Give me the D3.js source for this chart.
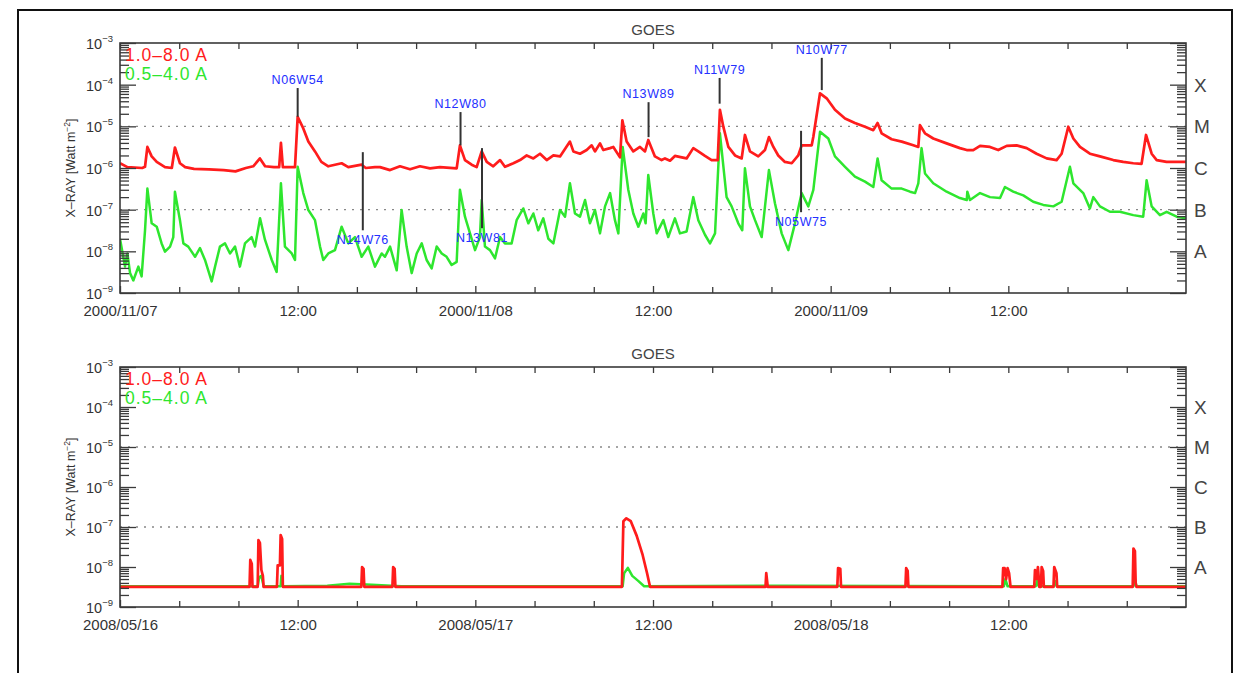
<!DOCTYPE html>
<html>
<head>
<meta charset="utf-8">
<script src="https://cdn.jsdelivr.net/npm/d3@7"></script>
<style>
  body { margin: 0; background: #fff; }
  svg { display: block; font-family: "Liberation Sans", Arial, sans-serif; }
</style>
</head>
<body>
<svg id="chart" width="1242" height="673"></svg>
<script>
// hours since start of window, flux in W m^-2
const hourTicksMajor = [0, 12, 24, 36, 48, 60];
const hourTicksMinor = [4, 8, 16, 20, 28, 32, 40, 44, 52, 56, 64, 68];
const topTickLabels = ['2000/11/07', '12:00', '2000/11/08', '12:00', '2000/11/09', '12:00'];
const bottomTickLabels = ['2008/05/16', '12:00', '2008/05/17', '12:00', '2008/05/18', '12:00'];
const decades = [1e-9, 1e-8, 1e-7, 1e-6, 1e-5, 1e-4, 1e-3];
const decadeExponents = [-9, -8, -7, -6, -5, -4, -3];
const classLetters = ['A', 'B', 'C', 'M', 'X'];
const classLevels = [1e-8, 1e-7, 1e-6, 1e-5, 1e-4];
const dottedLevels = [1e-7, 1e-5];
const legendNames = ['1.0\u20138.0 A', '0.5\u20134.0 A'];

const topLong = [
  [0, 1.3e-6], [0.5, 1.05e-6], [1.5, 1.0e-6], [1.69, 1.07e-6], [1.85, 3.2e-6], [2.14, 1.9e-6],
  [2.48, 1.4e-6], [3.04, 1.05e-6], [3.5, 1.0e-6], [3.71, 3.1e-6], [4.05, 1.3e-6], [4.4, 1.05e-6],
  [5.0, 9.5e-7], [6.0, 9.3e-7], [7.0, 8.9e-7], [7.8, 8.3e-7], [8.5, 1.0e-6], [9.0, 1.1e-6],
  [9.45, 1.7e-6], [9.8, 1.1e-6], [10.4, 1.05e-6], [10.75, 1.05e-6], [10.87, 4.0e-6], [11.0, 1.05e-6],
  [11.82, 1.05e-6], [12.0, 1.7e-5], [12.38, 8.9e-6], [12.72, 4.3e-6], [13.17, 2.5e-6], [13.6, 1.4e-6],
  [14.07, 1.1e-6], [14.97, 1.3e-6], [15.42, 1.05e-6], [16.32, 1.2e-6], [16.6, 1.0e-6], [17.22, 1.05e-6],
  [17.56, 1.05e-6], [18.24, 8.9e-7], [18.91, 1.1e-6], [19.59, 9.3e-7], [20.26, 1.1e-6], [20.94, 9.8e-7],
  [21.61, 1.05e-6], [22.74, 9.8e-7], [22.96, 3.5e-6], [23.3, 1.55e-6], [23.75, 1.2e-6], [24.09, 1.05e-6],
  [24.43, 2.5e-6], [24.77, 1.4e-6], [25.21, 1.1e-6], [25.67, 1.55e-6], [26.0, 1.07e-6], [26.57, 1.3e-6],
  [27.02, 1.55e-6], [27.47, 2.0e-6], [27.92, 1.7e-6], [28.37, 2.2e-6], [28.82, 1.55e-6], [29.27, 2.0e-6],
  [29.72, 1.9e-6], [30.39, 4.3e-6], [30.62, 2.5e-6], [31.07, 2.2e-6], [31.52, 2.7e-6], [31.86, 3.5e-6],
  [32.08, 2.5e-6], [32.42, 3.9e-6], [32.64, 2.7e-6], [33.1, 3.0e-6], [33.32, 3.2e-6], [33.77, 1.8e-6],
  [33.93, 1.4e-5], [34.22, 4.3e-6], [34.67, 2.5e-6], [35.12, 3.2e-6], [35.46, 2.5e-6], [35.68, 4.7e-6],
  [36.13, 1.9e-6], [36.58, 1.55e-6], [36.81, 1.7e-6], [37.15, 1.5e-6], [37.48, 1.95e-6], [37.94, 1.8e-6],
  [38.27, 1.7e-6], [38.72, 3.0e-6], [39.06, 2.5e-6], [39.51, 1.95e-6], [39.96, 1.55e-6], [40.37, 1.55e-6],
  [40.52, 2.5e-5], [40.75, 9.8e-6], [41.09, 3.2e-6], [41.54, 2.0e-6], [41.99, 1.7e-6], [42.21, 6.2e-6],
  [42.55, 2.5e-6], [43.11, 1.9e-6], [43.56, 2.7e-6], [43.83, 5.5e-6], [44.13, 3.2e-6], [44.46, 2.0e-6],
  [44.91, 1.4e-6], [45.37, 1.3e-6], [45.81, 2.0e-6], [46.04, 3.5e-6], [46.72, 3.5e-6], [46.83, 5.6e-6],
  [47.28, 6.2e-5], [47.73, 4.7e-5], [48.29, 2.5e-5], [48.97, 1.55e-5], [49.64, 1.2e-5], [50.32, 9.8e-6],
  [50.88, 8.1e-6], [51.17, 1.2e-5], [51.44, 6.8e-6], [52.12, 4.9e-6], [52.8, 4.3e-6], [53.58, 3.5e-6],
  [53.92, 3.2e-6], [54.03, 1.07e-5], [54.37, 6.8e-6], [54.93, 5.1e-6], [55.83, 3.9e-6], [56.73, 3.0e-6],
  [57.19, 2.7e-6], [57.63, 2.7e-6], [58.09, 3.4e-6], [58.76, 3.2e-6], [59.32, 2.7e-6], [59.89, 3.4e-6],
  [60.56, 3.5e-6], [61.24, 3.0e-6], [61.91, 2.2e-6], [62.59, 1.7e-6], [63.26, 1.55e-6], [63.6, 2.2e-6],
  [64.05, 9.8e-6], [64.39, 5.1e-6], [64.84, 3.2e-6], [65.51, 2.2e-6], [66.19, 1.9e-6], [67.09, 1.55e-6],
  [67.76, 1.4e-6], [68.44, 1.3e-6], [69.0, 1.26e-6], [69.3, 6.2e-6], [69.68, 2.2e-6], [70.02, 1.55e-6],
  [70.69, 1.4e-6], [71.37, 1.4e-6], [72.0, 1.4e-6]
];

const topShort = [
  [0, 2.0e-8], [0.34, 4.3e-9], [0.5, 8.9e-9], [0.68, 3.0e-9], [0.9, 2.0e-9], [1.24, 4.3e-9],
  [1.46, 2.5e-9], [1.69, 3.2e-8], [1.85, 3.2e-7], [2.14, 4.7e-8], [2.48, 3.9e-8], [2.81, 1.55e-8],
  [3.04, 9.8e-9], [3.38, 1.3e-8], [3.6, 2.2e-8], [3.71, 2.7e-7], [4.05, 5.6e-8], [4.28, 1.55e-8],
  [4.61, 1.3e-8], [5.07, 7.4e-9], [5.4, 1.2e-8], [5.74, 6.2e-9], [6.19, 1.9e-9], [6.42, 4.3e-9],
  [6.75, 1.3e-8], [7.09, 1.55e-8], [7.43, 8.9e-9], [7.77, 1.3e-8], [8.1, 4.3e-9], [8.44, 1.55e-8],
  [8.89, 2.2e-8], [9.12, 1.3e-8], [9.46, 6.2e-8], [9.79, 1.9e-8], [10.25, 6.2e-9], [10.58, 3.2e-9],
  [10.87, 4.3e-7], [11.14, 1.3e-8], [11.6, 8.9e-9], [11.82, 6.2e-9], [12.0, 1.07e-6], [12.38, 2.5e-7],
  [12.72, 9.8e-8], [13.17, 5.6e-8], [13.51, 1.3e-8], [13.73, 6.2e-9], [14.07, 8.9e-9], [14.52, 1.07e-8],
  [14.97, 3.9e-8], [15.42, 1.55e-8], [15.87, 2.2e-8], [16.32, 7.4e-9], [16.77, 1.3e-8], [17.22, 4.3e-9],
  [17.67, 8.9e-9], [17.9, 7.4e-9], [18.24, 1.3e-8], [18.69, 3.5e-9], [19.02, 9.8e-8], [19.36, 1.3e-8],
  [19.7, 3.0e-9], [20.04, 8.9e-9], [20.38, 1.55e-8], [20.71, 6.2e-9], [21.05, 3.9e-9], [21.39, 1.3e-8],
  [21.73, 8.9e-9], [22.06, 7.4e-9], [22.4, 4.7e-9], [22.74, 5.6e-9], [22.96, 3.0e-7], [23.3, 6.8e-8],
  [23.64, 2.7e-8], [23.98, 1.07e-8], [24.31, 2.2e-8], [24.43, 1.7e-7], [24.65, 1.3e-8], [24.99, 1.07e-8],
  [25.33, 6.8e-9], [25.67, 2.2e-8], [26.0, 1.55e-8], [26.45, 1.55e-8], [26.79, 5.6e-8], [27.24, 1.07e-7],
  [27.58, 4.7e-8], [27.92, 8.1e-8], [28.25, 3.2e-8], [28.59, 6.2e-8], [28.93, 2.0e-8], [29.27, 1.55e-8],
  [29.72, 9.8e-8], [30.06, 6.8e-8], [30.39, 4.3e-7], [30.73, 8.1e-8], [31.07, 6.8e-8], [31.41, 1.7e-7],
  [31.74, 4.7e-8], [32.08, 9.8e-8], [32.42, 2.7e-8], [32.76, 1.2e-7], [33.1, 2.5e-7], [33.43, 5.6e-8],
  [33.66, 2.7e-8], [33.95, 3.2e-6], [34.33, 3.0e-7], [34.67, 8.1e-8], [35.01, 3.9e-8], [35.35, 8.1e-8],
  [35.5, 4.7e-8], [35.68, 6.8e-7], [36.02, 8.1e-8], [36.25, 2.7e-8], [36.7, 5.6e-8], [37.03, 2.2e-8],
  [37.48, 6.2e-8], [37.82, 2.7e-8], [38.27, 3.0e-8], [38.72, 2.0e-7], [39.06, 5.6e-8], [39.51, 2.5e-8],
  [39.85, 1.55e-8], [40.19, 2.7e-8], [40.52, 6.8e-6], [40.97, 2.0e-7], [41.31, 1.2e-7], [41.76, 4.7e-8],
  [42.03, 3.2e-8], [42.21, 9.8e-7], [42.55, 1.2e-7], [42.89, 5.6e-8], [43.34, 2.2e-8], [43.83, 8.9e-7],
  [44.24, 1.4e-7], [44.69, 2.7e-8], [45.14, 1.07e-8], [45.59, 4.7e-8], [46.04, 2.5e-7], [46.49, 1.2e-7],
  [46.83, 3.0e-7], [47.28, 7.4e-6], [47.84, 5.1e-6], [48.29, 1.9e-6], [48.97, 1.07e-6], [49.64, 6.2e-7],
  [50.32, 4.7e-7], [50.88, 3.5e-7], [51.17, 1.7e-6], [51.44, 5.1e-7], [52.12, 3.2e-7], [52.8, 3.2e-7],
  [53.36, 2.7e-7], [53.7, 2.5e-7], [53.92, 4.3e-7], [54.14, 3.0e-6], [54.37, 7.4e-7], [54.93, 4.3e-7],
  [55.83, 2.7e-7], [56.73, 1.9e-7], [57.19, 1.7e-7], [57.23, 2.7e-7], [57.41, 1.7e-7], [58.09, 2.5e-7],
  [58.76, 2.0e-7], [59.44, 1.9e-7], [59.77, 3.5e-7], [60.33, 2.7e-7], [61.01, 2.2e-7], [61.68, 1.55e-7],
  [62.36, 1.3e-7], [63.04, 1.2e-7], [63.6, 1.55e-7], [64.16, 1.07e-6], [64.39, 4.3e-7], [65.06, 2.5e-7],
  [65.51, 1.07e-7], [65.74, 2.0e-7], [66.19, 1.2e-7], [66.86, 8.9e-8], [67.54, 8.9e-8], [68.44, 7.4e-8],
  [69.11, 6.8e-8], [69.34, 5.1e-7], [69.68, 1.2e-7], [70.24, 7.4e-8], [70.69, 8.9e-8], [71.37, 6.8e-8],
  [72.0, 6.2e-8]
];

const bottomLong = [
  [0, 3.2e-9], [8.75, 3.2e-9], [8.8, 1.5e-8], [8.9, 1.2e-8], [8.95, 3.2e-9], [9.3, 3.2e-9],
  [9.35, 4.7e-8], [9.45, 4.0e-8], [9.55, 8.4e-9], [9.65, 6.0e-9], [9.7, 3.2e-9], [10.6, 3.2e-9],
  [10.65, 1.1e-8], [10.8, 1.1e-8], [10.85, 6.3e-8], [10.95, 5.0e-8], [11.0, 3.2e-9], [16.3, 3.2e-9],
  [16.35, 1.0e-8], [16.45, 9.0e-9], [16.5, 3.2e-9], [18.4, 3.2e-9], [18.45, 1.0e-8], [18.55, 9.0e-9],
  [18.6, 3.2e-9], [33.9, 3.2e-9], [34.0, 1.4e-7], [34.2, 1.65e-7], [34.5, 1.4e-7], [34.9, 6.0e-8],
  [35.3, 2.0e-8], [35.6, 7.0e-9], [35.8, 3.2e-9], [43.6, 3.2e-9], [43.65, 7.0e-9], [43.75, 3.2e-9],
  [48.45, 3.2e-9], [48.5, 9.4e-9], [48.65, 9.0e-9], [48.7, 3.2e-9], [53.05, 3.2e-9], [53.1, 9.4e-9],
  [53.2, 8.0e-9], [53.25, 3.2e-9], [59.6, 3.2e-9], [59.65, 9.4e-9], [59.75, 9.4e-9], [59.85, 5.0e-9],
  [59.95, 9.4e-9], [60.05, 7.0e-9], [60.15, 3.2e-9], [61.75, 3.2e-9], [61.8, 8.4e-9], [61.9, 5.0e-9],
  [62.0, 1.0e-8], [62.1, 3.2e-9], [62.2, 3.2e-9], [62.25, 1.0e-8], [62.35, 8.0e-9], [62.4, 3.2e-9],
  [63.05, 3.2e-9], [63.1, 1.0e-8], [63.25, 7.0e-9], [63.3, 3.2e-9], [68.4, 3.2e-9], [68.45, 2.9e-8],
  [68.55, 2.5e-8], [68.6, 4.0e-9], [68.65, 3.2e-9], [72, 3.2e-9]
];

const bottomShort = [
  [0, 3.3e-9], [9.3, 3.3e-9], [9.4, 5.5e-9], [9.55, 6.0e-9], [9.7, 3.3e-9], [10.85, 3.3e-9],
  [10.9, 6.0e-9], [11.0, 3.3e-9], [14, 3.4e-9], [15.5, 3.8e-9], [17, 3.6e-9], [19, 3.3e-9],
  [33.95, 3.3e-9], [34.05, 7.0e-9], [34.3, 9.5e-9], [34.6, 6.0e-9], [35.0, 4.5e-9], [35.4, 3.3e-9],
  [45, 3.4e-9], [59.7, 3.3e-9], [59.8, 5.0e-9], [59.95, 3.3e-9], [61.85, 3.3e-9], [61.95, 4.5e-9],
  [62.05, 3.3e-9], [63.1, 3.3e-9], [63.15, 4.5e-9], [63.3, 3.3e-9], [68.45, 3.3e-9], [68.55, 5.0e-9],
  [68.65, 3.3e-9], [72, 3.3e-9]
];

// flare source regions: hour, line top flux, line bottom flux, label side
const regionNames = ['N06W54', 'N14W76', 'N12W80', 'N13W81', 'N13W89', 'N11W79', 'N05W75', 'N10W77'];
const regionHours = [12.0, 16.4, 23.0, 24.45, 35.7, 40.5, 46.0, 47.4];
const regionTop = [8.3e-5, 2.4e-6, 2.2e-5, 3.0e-6, 3.8e-5, 1.45e-4, 7.8e-6, 4.4e-4];
const regionBottom = [1.7e-5, 3.2e-8, 3.5e-6, 3.6e-8, 5.5e-6, 3.5e-5, 8.7e-8, 7.4e-5];
const regionSide = ['top', 'bottom', 'top', 'bottom', 'top', 'top', 'bottom', 'top'];

const RED = '#ff1c1c';
const GREEN = '#2ee62e';
const AXIS = '#3a3a3a';

const svg = d3.select('#chart');

// outer frame
svg.append('rect')
  .attr('x', 18).attr('y', 10)
  .attr('width', 1214).attr('height', 700)
  .attr('fill', 'none').attr('stroke', '#111').attr('stroke-width', 2);

const panels = [
  { top: 43, bottom: 293, left: 120, right: 1186, long: topLong, short: topShort, labels: topTickLabels, regions: true },
  { top: 367, bottom: 607, left: 120, right: 1186, long: bottomLong, short: bottomShort, labels: bottomTickLabels, regions: false }
];

const minorValues = [];
decadeExponents.slice(0, -1).forEach((e) => {
  for (let m = 2; m <= 9; m++) minorValues.push(m * Math.pow(10, e));
});

function styleAxis (g) {
  g.select('.domain').remove();
  g.selectAll('.tick line').attr('stroke', AXIS).attr('stroke-width', 1.3);
}

function drawPanel (p, index) {
  const x = d3.scaleLinear().domain([0, 72]).range([p.left, p.right]);
  const y = d3.scaleLog().domain([1e-9, 1e-3]).range([p.bottom, p.top]);
  const g = svg.append('g');

  g.append('text')
    .attr('x', (p.left + p.right) / 2).attr('y', p.top - 8)
    .attr('text-anchor', 'middle').attr('font-size', 15).attr('fill', '#444')
    .text('GOES');

  g.selectAll('line.level')
    .data(dottedLevels)
    .join('line')
    .attr('class', 'level')
    .attr('x1', p.left).attr('x2', p.right)
    .attr('y1', (d) => y(d)).attr('y2', (d) => y(d))
    .attr('stroke', '#888').attr('stroke-width', 1.4)
    .attr('stroke-dasharray', '2,6');

  const clipId = 'clip' + index;
  svg.append('clipPath').attr('id', clipId)
    .append('rect')
    .attr('x', p.left).attr('y', p.top)
    .attr('width', p.right - p.left).attr('height', p.bottom - p.top);

  const line = d3.line().x((d) => x(d[0])).y((d) => y(d[1]));
  const plot = g.append('g').attr('clip-path', `url(#${clipId})`);

  plot.append('path').datum(p.short)
    .attr('d', line).attr('fill', 'none')
    .attr('stroke', GREEN).attr('stroke-width', 2.5).attr('stroke-linejoin', 'round');
  plot.append('path').datum(p.long)
    .attr('d', line).attr('fill', 'none')
    .attr('stroke', RED).attr('stroke-width', 2.7).attr('stroke-linejoin', 'round');

  // x axes, ticks inward
  g.append('g').attr('transform', `translate(0,${p.bottom})`)
    .call(d3.axisBottom(x).tickValues(hourTicksMinor).tickSizeInner(-6).tickSizeOuter(0).tickFormat(''))
    .call(styleAxis);
  g.append('g').attr('transform', `translate(0,${p.bottom})`)
    .call(d3.axisBottom(x).tickValues(hourTicksMajor).tickSizeInner(-7).tickSizeOuter(0).tickPadding(12)
      .tickFormat((d, i) => p.labels[i]))
    .call(styleAxis)
    .call((a) => a.selectAll('.tick text').attr('font-size', 15).attr('fill', '#333').attr('font-family', null));
  g.append('g').attr('transform', `translate(0,${p.top})`)
    .call(d3.axisTop(x).tickValues(hourTicksMajor.concat(hourTicksMinor)).tickSizeInner(-6).tickSizeOuter(0).tickFormat(''))
    .call(styleAxis);

  // y axes, log ticks inward on both sides
  g.append('g').attr('transform', `translate(${p.left},0)`)
    .call(d3.axisLeft(y).tickValues(minorValues).tickSizeInner(-9).tickSizeOuter(0).tickFormat(''))
    .call(styleAxis);
  g.append('g').attr('transform', `translate(${p.left},0)`)
    .call(d3.axisLeft(y).tickValues(decades).tickSizeInner(-16).tickSizeOuter(0).tickFormat(''))
    .call(styleAxis);
  g.append('g').attr('transform', `translate(${p.right},0)`)
    .call(d3.axisRight(y).tickValues(minorValues).tickSizeInner(-9).tickSizeOuter(0).tickFormat(''))
    .call(styleAxis);
  g.append('g').attr('transform', `translate(${p.right},0)`)
    .call(d3.axisRight(y).tickValues(decades).tickSizeInner(-16).tickSizeOuter(0).tickFormat(''))
    .call(styleAxis);

  const decadeLabels = g.selectAll('text.dec')
    .data(decades)
    .join('text')
    .attr('class', 'dec')
    .attr('x', p.left - 7).attr('y', (d) => y(d) + 6)
    .attr('text-anchor', 'end').attr('fill', '#333').attr('font-size', 14.5);
  decadeLabels.append('tspan').text('10');
  decadeLabels.append('tspan')
    .attr('font-size', 9.5).attr('dy', -7)
    .text((d, i) => '\u2212' + Math.abs(decadeExponents[i]));

  g.selectAll('text.cls')
    .data(classLevels)
    .join('text')
    .attr('class', 'cls')
    .attr('x', p.right + 8).attr('y', (d) => y(d) + 7)
    .attr('fill', '#444').attr('font-size', 19)
    .text((d, i) => classLetters[i]);

  const cy = (p.top + p.bottom) / 2;
  const yl = g.append('text')
    .attr('transform', `translate(75,${cy}) rotate(-90)`)
    .attr('text-anchor', 'middle').attr('fill', '#333').attr('font-size', 12.5);
  yl.append('tspan').text('X\u2013RAY [Watt m');
  yl.append('tspan').attr('font-size', 8.5).attr('dy', -5).text('\u22122');
  yl.append('tspan').attr('dy', 5).text(']');

  // frame
  g.append('rect')
    .attr('x', p.left).attr('y', p.top)
    .attr('width', p.right - p.left).attr('height', p.bottom - p.top)
    .attr('fill', 'none').attr('stroke', AXIS).attr('stroke-width', 1.6);

  // legend
  g.selectAll('text.leg')
    .data(legendNames)
    .join('text')
    .attr('class', 'leg')
    .attr('x', p.left + 5).attr('y', (d, i) => p.top + 18 + i * 19)
    .attr('font-size', 17.5).attr('letter-spacing', 1)
    .attr('fill', (d, i) => (i === 0 ? RED : GREEN))
    .text((d) => d);

  if (p.regions) {
    const marks = g.selectAll('g.region')
      .data(regionNames)
      .join('g')
      .attr('class', 'region');
    marks.append('line')
      .attr('x1', (d, i) => x(regionHours[i])).attr('x2', (d, i) => x(regionHours[i]))
      .attr('y1', (d, i) => y(regionTop[i])).attr('y2', (d, i) => y(regionBottom[i]))
      .attr('stroke', '#333').attr('stroke-width', 2);
    marks.append('text')
      .attr('x', (d, i) => x(regionHours[i]))
      .attr('y', (d, i) => (regionSide[i] === 'top' ? y(regionTop[i]) - 4 : y(regionBottom[i]) + 14))
      .attr('text-anchor', 'middle').attr('fill', '#2430ff').attr('font-size', 12.5)
      .attr('letter-spacing', 0.6)
      .text((d) => d);
  }
}

panels.forEach(drawPanel);
</script>
</body>
</html>
